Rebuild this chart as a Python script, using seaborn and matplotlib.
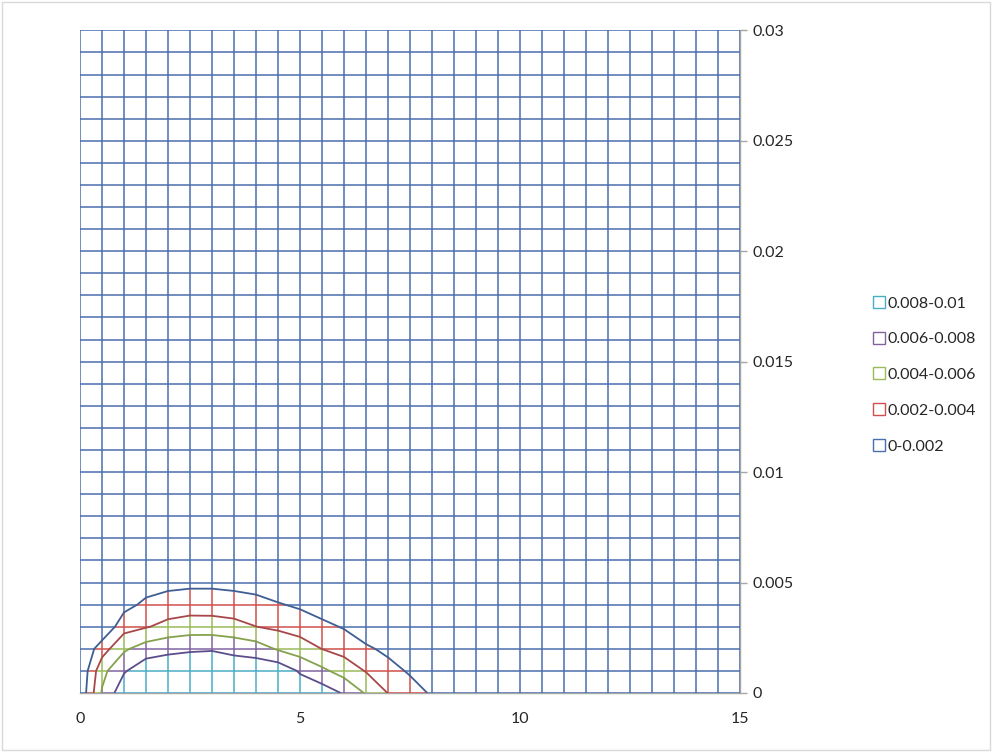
import numpy as np
import pandas as pd
import matplotlib
matplotlib.use("Agg")
import matplotlib.pyplot as plt
from matplotlib.lines import Line2D
from matplotlib.patches import Rectangle
import seaborn as sns

# grid of the surface: x every 0.5, y every 0.001
x_vals = np.arange(0, 15.01, 0.5)
y_vals = np.arange(0, 0.03001, 0.001)

# values (in 1e-3), rows y = 0 .. 0.005, columns x = 0 .. 8.5, rest is 0
row_y0 = [0.4, 6.2, 9.4, 9.5, 9.7, 9.8, 9.8, 9.7, 9.7, 9.6, 9.4, 9.1, 7.8, 5.8, 3.95, 2.9, 1.75, 0.9]
row_y1 = [0.2, 5.4, 7.8, 9.3, 9.4, 9.5, 9.5, 9.3, 9.4, 9.4, 7.77, 6.43, 5.18, 3.89, 2.74, 1.75, 0.8, 0.2]
row_y2 = [0.0, 3.1, 5.68, 6.96, 7.5, 7.74, 7.84, 7.44, 7.0, 5.78, 4.97, 3.97, 3.31, 2.33, 1.53, 0.6, 0.1, 0.0]
row_y3 = [0.0, 0.2, 3.26, 3.86, 4.58, 4.95, 4.91, 4.63, 4.02, 3.62, 3.17, 2.5, 1.84, 0.77, 0.3, 0.0, 0.0, 0.0]
row_y4 = [0.0, 0.0, 1.32, 2.45, 2.87, 3.07, 3.07, 2.91, 2.63, 2.15, 1.69, 1.03, 0.37, 0.0, 0.0, 0.0, 0.0, 0.0]
row_y5 = [0.0, 0.0, 0.2, 1.04, 1.46, 1.59, 1.59, 1.44, 1.24, 0.68, 0.21, 0.0, 0.0, 0.0, 0.0, 0.0, 0.0, 0.0]

levels = [0.002, 0.004, 0.006, 0.008]
band_labels = ["0-0.002", "0.002-0.004", "0.004-0.006", "0.006-0.008", "0.008-0.01"]
band_colors = ["#4A6FAE", "#D0504D", "#9BBB59", "#8064A2", "#4BACC6"]
contour_colors = ["#3E5E94", "#A8474A", "#86A24E", "#5E4D8C"]

Z = np.zeros((len(y_vals), len(x_vals)))
for j, row in enumerate([row_y0, row_y1, row_y2, row_y3, row_y4, row_y5]):
    Z[j, :len(row)] = np.array(row) * 1e-3


def band_of(v):
    return int(np.digitize(v, levels))


def split_line(px, py, pz):
    # cut a grid line where it crosses a level, keep runs of one band
    pts = [(px[0], py[0], pz[0])]
    for k in range(len(pz) - 1):
        a, b = pz[k], pz[k + 1]
        ts = sorted((L - a) / (b - a) for L in levels if min(a, b) < L < max(a, b))
        for t in ts:
            pts.append((px[k] + t * (px[k + 1] - px[k]), py[k] + t * (py[k + 1] - py[k]), a + t * (b - a)))
        pts.append((px[k + 1], py[k + 1], b))
    runs = []
    cur = [pts[0]]
    cur_band = None
    for p, q in zip(pts[:-1], pts[1:]):
        band = band_of((p[2] + q[2]) / 2)
        if cur_band is not None and band != cur_band:
            runs.append((cur_band, cur))
            cur = [p]
        cur.append(q)
        cur_band = band
    runs.append((cur_band, cur))
    return runs


rows = []
unit = 0
for j, yv in enumerate(y_vals):
    for band, pts in split_line(x_vals, np.full(len(x_vals), yv), Z[j, :]):
        for p in pts:
            rows.append((p[0], p[1], band_labels[band], unit))
        unit += 1
for i, xv in enumerate(x_vals):
    for band, pts in split_line(np.full(len(y_vals), xv), y_vals, Z[:, i]):
        for p in pts:
            rows.append((p[0], p[1], band_labels[band], unit))
        unit += 1
df = pd.DataFrame(rows, columns=["x", "y", "band", "unit"])

sns.set_theme(style="white")
plt.rcParams["font.family"] = ["Lato", "DejaVu Sans"]

fig = plt.figure(figsize=(9.94, 7.53), dpi=100)
ax = fig.add_axes([0.0805, 0.0797, 0.664, 0.880])

sns.lineplot(data=df, x="x", y="y", hue="band", units="unit", estimator=None, sort=False,
             hue_order=band_labels, palette=dict(zip(band_labels, band_colors)),
             linewidth=1.1, legend=False, ax=ax, zorder=2)

ax.contour(x_vals, y_vals, Z, levels=levels, colors=contour_colors, linewidths=1.3, zorder=3)

ax.set_xlim(0, 15)
ax.set_ylim(0, 0.03)
ax.set_xlabel("")
ax.set_ylabel("")
ax.set_xticks([0, 5, 10, 15])
ax.set_xticklabels(["0", "5", "10", "15"])
ax.set_yticks([0, 0.005, 0.01, 0.015, 0.02, 0.025, 0.03])
ax.set_yticklabels(["0", "0.005", "0.01", "0.015", "0.02", "0.025", "0.03"])
ax.yaxis.tick_right()
ax.tick_params(axis="both", direction="out", length=5, width=1, color="#A6A6A6",
               labelsize=11.5, labelcolor="#262626", pad=4)
ax.tick_params(axis="x", pad=9)
for side in ["top", "left"]:
    ax.spines[side].set_visible(False)
for side in ["right", "bottom"]:
    ax.spines[side].set_color("#A6A6A6")
    ax.spines[side].set_linewidth(1)
    ax.spines[side].set_zorder(1)

handles = [Line2D([], [], marker="s", linestyle="none", markersize=8.5, markerfacecolor="white",
                  markeredgecolor=c, markeredgewidth=1) for c in band_colors[::-1]]
fig.legend(handles, band_labels[::-1], loc="center left", bbox_to_anchor=(0.862, 0.502),
           frameon=False, fontsize=11.5, labelspacing=1.35, handletextpad=0.05,
           handlelength=1.0, labelcolor="#262626")

fig.patches.append(Rectangle((0.002, 0.004), 0.994, 0.994, transform=fig.transFigure,
                             fill=False, edgecolor="#D9D9D9", linewidth=1))

fig.savefig("out.png", dpi=100, facecolor="white")
